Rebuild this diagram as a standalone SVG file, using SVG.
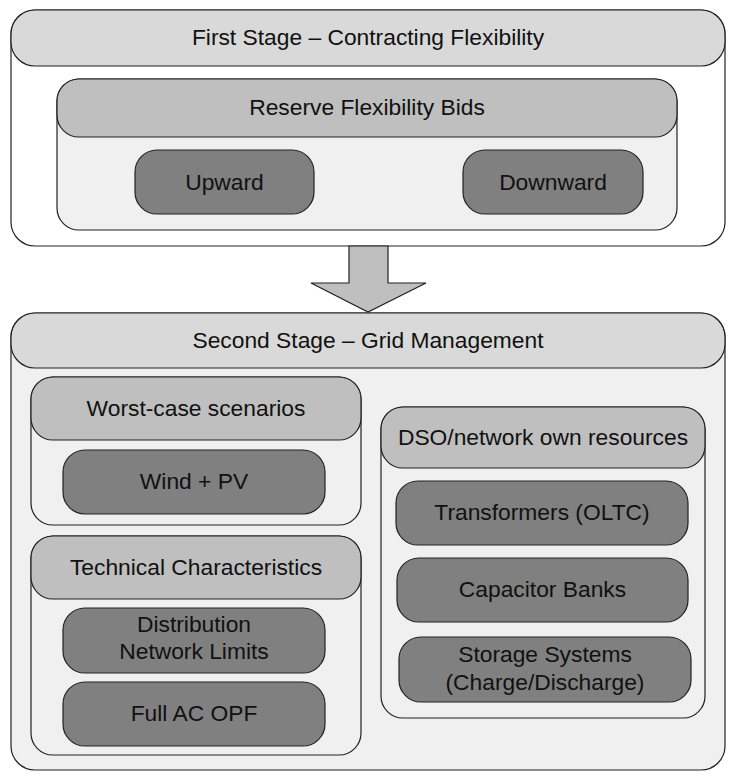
<svg xmlns="http://www.w3.org/2000/svg" width="733" height="776" viewBox="0 0 733 776">
<style>
rect{stroke:#222;stroke-width:1.2}
.outer{fill:#fff}
.body{fill:#f0f0f0}
.h1{fill:#d9d9d9}
.h2{fill:#bfbfbf}
.leaf{fill:#808080}
text{font-family:"Liberation Sans",Arial,sans-serif;font-size:22.8px;fill:#111;text-anchor:middle}
</style>
<rect width="733" height="776" fill="#fff" style="stroke:none"/>
<g id="first-stage">
<rect class="outer" x="11" y="10" width="714" height="236" rx="24"/>
<rect class="h1" x="11" y="10" width="714" height="56" rx="24"/>
<text x="368" y="45">First Stage – Contracting Flexibility</text>
</g>
<g id="reserve-bids">
<rect class="body" x="57" y="79" width="620" height="151" rx="22"/>
<rect class="h2" x="57" y="79" width="620" height="58" rx="22"/>
<text x="367" y="115">Reserve Flexibility Bids</text>
</g>
<g id="upward">
<rect class="leaf" x="135" y="150" width="179" height="64" rx="22"/>
<text x="224.5" y="190">Upward</text>
</g>
<g id="downward">
<rect class="leaf" x="463" y="150" width="180" height="64" rx="22"/>
<text x="553" y="190">Downward</text>
</g>
<g id="connectors">
<path d="M349 246 V283 H311 L368 312 L426 283 H388 V246 Z" fill="#bfbfbf" stroke="#222" stroke-width="1.2" stroke-linejoin="miter"/>
</g>
<g id="second-stage">
<rect class="body" x="11" y="313" width="714" height="457" rx="24"/>
<rect class="h1" x="11" y="313" width="714" height="55" rx="24"/>
<text x="368" y="348">Second Stage – Grid Management</text>
</g>
<g id="worst-case">
<rect class="body" x="31" y="377" width="330" height="148" rx="22"/>
<rect class="h2" x="31" y="377" width="330" height="63" rx="22"/>
<text x="196" y="416">Worst-case scenarios</text>
</g>
<g id="wind-pv">
<rect class="leaf" x="63" y="450" width="262" height="64" rx="22"/>
<text x="194" y="489">Wind + PV</text>
</g>
<g id="technical">
<rect class="body" x="31" y="536" width="330" height="219" rx="22"/>
<rect class="h2" x="31" y="536" width="330" height="63" rx="22"/>
<text x="196" y="575">Technical Characteristics</text>
</g>
<g id="distribution-limits">
<rect class="leaf" x="63" y="608" width="262" height="65" rx="22"/>
<text x="194" y="632">Distribution</text>
<text x="194" y="659">Network Limits</text>
</g>
<g id="full-ac-opf">
<rect class="leaf" x="63" y="682" width="262" height="64" rx="22"/>
<text x="194" y="721">Full AC OPF</text>
</g>
<g id="dso-resources">
<rect class="body" x="381" y="407" width="324" height="311" rx="22"/>
<rect class="h2" x="381" y="407" width="324" height="61" rx="22"/>
<text x="543" y="445">DSO/network own resources</text>
</g>
<g id="transformers">
<rect class="leaf" x="396" y="481" width="292" height="64" rx="22"/>
<text x="542" y="520">Transformers (OLTC)</text>
</g>
<g id="capacitor-banks">
<rect class="leaf" x="397" y="558" width="291" height="64" rx="22"/>
<text x="542.5" y="597">Capacitor Banks</text>
</g>
<g id="storage">
<rect class="leaf" x="399" y="637" width="292" height="65" rx="22"/>
<text x="545" y="662">Storage Systems</text>
<text x="545" y="690">(Charge/Discharge)</text>
</g>
</svg>
